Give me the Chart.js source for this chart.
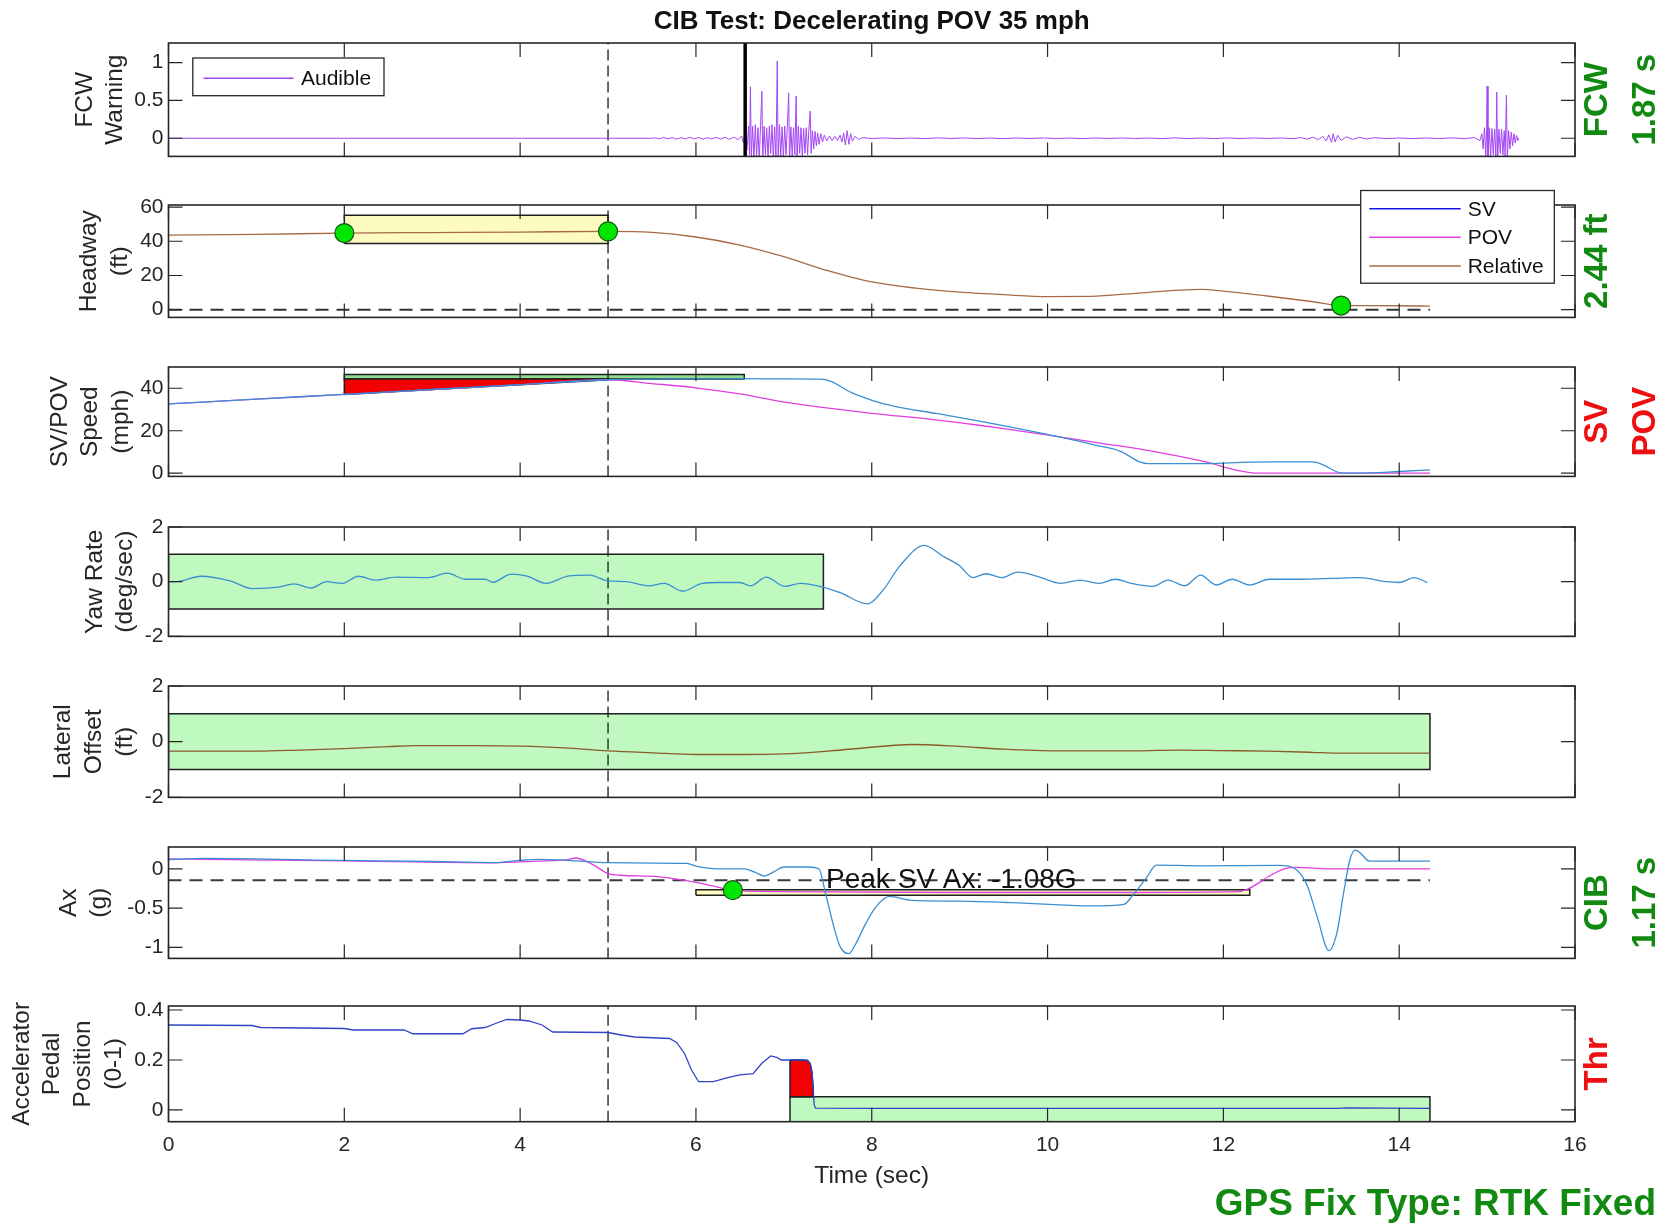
<!DOCTYPE html>
<html>
<head>
<meta charset="utf-8">
<title>CIB Test: Decelerating POV 35 mph</title>
<script src="https://cdn.jsdelivr.net/npm/chart.js@4.4.1/dist/chart.umd.min.js"></script>
<style>
  html, body { margin: 0; padding: 0; background: #fff; }
  #page { position: relative; width: 1672px; height: 1227px; overflow: hidden; background: #fff; }
  #page canvas { position: absolute; left: 0; }
</style>
</head>
<body>
<div id="page"></div>
<script>
// ---- data (time in seconds) ----
const xTicks = [0, 2, 4, 6, 8, 10, 12, 14, 16];
const fcwTicks = [0, 0.5, 1];
const headwayTicks = [0, 20, 40, 60];
const speedTicks = [0, 20, 40];
const yawTicks = [-2, 0, 2];
const lateralTicks = [-2, 0, 2];
const axTicks = [-1, -0.5, 0];
const pedalTicks = [0, 0.2, 0.4];

const seriesNames = ['SV', 'POV', 'Relative'];
const triggerTime = 5;        // dashed reference line through every panel
const fcwOnset = 6.56;        // FCW issued (black line)
const endTime = 14.35;

// FCW audible channel [t, amplitude]
const audibleSamples = [
  [0,0],[5.5,0],
  [5.53,0.008],[5.58,-0.01],[5.63,0.012],[5.68,-0.008],[5.73,0.01],[5.78,-0.012],[5.83,0.009],[5.88,-0.01],
  [5.93,0.012],[5.98,-0.009],[6.03,0.01],[6.08,-0.012],[6.13,0.008],[6.18,-0.01],[6.23,0.012],[6.28,-0.01],
  [6.33,0.012],[6.38,-0.014],[6.43,0.015],[6.48,-0.018],[6.52,0.03],
  [6.54,-0.06],[6.56,0.1],[6.58,-0.16],[6.6,0.16],[6.61,-0.22],[6.62,0.68],[6.63,-0.26],[6.645,0.16],
  [6.66,-0.3],[6.675,0.18],[6.69,-0.24],[6.705,0.14],[6.72,-0.28],[6.735,0.17],[6.75,0.62],[6.76,-0.3],
  [6.775,0.16],[6.79,-0.22],[6.805,0.14],[6.82,-0.26],[6.835,0.16],[6.85,-0.2],[6.865,0.18],[6.88,-0.26],
  [6.895,0.15],[6.91,-0.3],[6.925,1.02],[6.935,-0.3],[6.95,0.18],[6.965,-0.24],[6.98,0.15],[6.995,-0.26],
  [7.01,0.16],[7.025,-0.22],[7.04,0.17],[7.055,0.6],[7.065,-0.3],[7.08,0.15],[7.095,-0.24],[7.11,0.14],
  [7.125,-0.22],[7.14,0.56],[7.15,-0.3],[7.165,0.16],[7.18,-0.2],[7.195,0.14],[7.21,-0.24],[7.225,0.13],
  [7.24,-0.2],[7.255,0.14],[7.27,-0.22],[7.285,0.12],[7.3,0.36],[7.31,-0.2],[7.325,0.1],[7.34,-0.14],
  [7.355,0.09],[7.37,-0.1],[7.385,0.07],[7.4,-0.08],[7.42,0.06],[7.44,-0.05],[7.46,0.04],[7.49,-0.035],
  [7.52,0.03],[7.55,-0.03],[7.58,0.025],[7.61,-0.03],[7.64,0.04],[7.66,-0.05],[7.68,0.07],[7.7,-0.09],
  [7.72,0.1],[7.74,-0.08],[7.76,0.06],[7.78,-0.04],[7.81,0.025],[7.85,-0.015],[7.9,0.008],
  [8.0,-0.004],[8.15,0.004],[8.3,-0.004],[8.45,0.003],[8.6,-0.004],[8.75,0.005],[8.9,-0.003],[9.05,0.004],
  [9.2,-0.004],[9.35,0.003],[9.5,-0.005],[9.65,0.004],[9.8,-0.003],[9.95,0.004],[10.1,-0.004],[10.25,0.003],
  [10.4,-0.004],[10.55,0.004],[10.7,-0.003],[10.85,0.004],[11.0,-0.004],[11.15,0.003],[11.3,-0.004],[11.45,0.005],
  [11.6,-0.004],[11.75,0.003],[11.9,-0.004],[12.05,0.004],[12.2,-0.003],[12.35,0.004],[12.5,-0.003],[12.65,0.004],
  [12.8,-0.006],[12.88,0.01],[12.95,-0.012],[13.02,0.015],[13.08,-0.02],[13.13,0.025],[13.17,-0.035],[13.2,0.045],
  [13.23,-0.055],[13.25,0.06],[13.27,-0.05],[13.3,0.04],[13.34,-0.03],[13.4,0.02],[13.47,-0.015],[13.55,0.012],
  [13.63,-0.01],[13.72,0.008],[13.85,-0.004],[14.0,0.004],[14.15,-0.004],[14.3,0.004],[14.45,-0.004],[14.6,0.005],
  [14.75,-0.006],[14.85,0.01],[14.92,-0.03],
  [14.94,0.06],[14.955,-0.14],[14.97,0.14],[14.985,-0.24],[14.995,0.12],[15.0,0.69],[15.01,-0.3],[15.025,0.14],
  [15.04,-0.24],[15.055,0.13],[15.07,-0.22],[15.085,0.12],[15.1,-0.26],[15.11,0.61],[15.12,-0.3],[15.135,0.12],
  [15.15,-0.2],[15.165,0.12],[15.18,-0.22],[15.195,0.1],[15.205,-0.24],[15.22,0.57],[15.23,-0.26],[15.245,0.1],
  [15.26,-0.14],[15.275,0.08],[15.29,-0.1],[15.305,0.06],[15.32,-0.06],[15.335,0.04],[15.35,-0.03],[15.36,0]
];

// Headway (ft)
const headTime = [0, 1, 2, 3, 4, 5, 5.5, 6, 6.5, 7, 7.5, 8, 8.5, 9, 9.5, 10, 10.5, 11, 11.5, 11.75, 12, 12.5, 13, 13.34, 13.6, 14, 14.35];
const headFt   = [43.6, 44.0, 44.8, 45.1, 45.4, 45.8, 45.2, 42.5, 37.8, 31.0, 22.8, 16.2, 12.6, 10.3, 8.8, 7.7, 7.8, 9.6, 11.5, 11.9, 10.9, 8.0, 4.8, 2.44, 2.4, 2.3, 2.1];
const headWindow = [2, 5];
const headBand = [38.7, 55.2];
const headDots = [[2, 44.8], [5, 45.8], [13.34, 2.44]];

// Speeds (mph)
const svSpeedTime = [0, 1, 2, 3, 4, 5, 5.5, 6, 6.5, 7, 7.45, 7.55, 7.77, 8.02, 8.26, 8.75, 9.36, 9.97, 10.58, 10.83, 11.04, 11.15, 11.5, 11.8, 12.29, 12.6, 13.02, 13.14, 13.33, 13.5, 14.0, 14.35];
const svSpeed     = [32.6, 34.9, 37.1, 39.4, 41.7, 44.0, 44.3, 44.4, 44.5, 44.4, 44.2, 43.0, 37.9, 34.1, 31.5, 28.0, 23.5, 18.5, 12.9, 10.3, 5.5, 4.5, 4.5, 4.5, 5.2, 5.3, 5.3, 3.8, 0.2, 0.0, 0.8, 1.6];
const povSpeedTime = [0, 1, 2, 3, 4, 5, 5.5, 6, 6.5, 6.92, 7.53, 8.0, 8.75, 9.4, 9.97, 10.6, 11.2, 11.8, 12.17, 12.4, 13, 14.35];
const povSpeed     = [32.6, 34.9, 37.1, 39.4, 41.7, 44.0, 42.2, 40.2, 37.3, 34.1, 30.5, 28.2, 25.0, 21.6, 18.2, 14.2, 10.3, 5.3, 1.2, 0.0, 0.0, 0.0];
const speedWindow = [2, 5];
const speedBar = [44.3, 46.5];
const speedBarEnd = 6.55;

// Yaw rate (deg/sec)
const yawTime = [0, 0.09, 0.37, 0.7, 0.95, 1.25, 1.43, 1.62, 1.8, 1.98, 2.16, 2.35, 2.59, 2.96, 3.17, 3.38, 3.6, 3.69, 3.9, 4.08,
  4.3, 4.54, 4.79, 5.0, 5.21, 5.46, 5.64, 5.85, 6.07, 6.25, 6.5, 6.62, 6.8, 7.01, 7.19, 7.41, 7.64, 7.95, 8.13, 8.32,
  8.6, 8.81, 9.0, 9.15, 9.3, 9.48, 9.66, 9.91, 10.15, 10.37, 10.58, 10.77, 10.95, 11.2, 11.37, 11.56, 11.74, 11.92, 12.1, 12.3,
  12.52, 12.88, 13.25, 13.55, 13.86, 14.0, 14.17, 14.32];
const yawRate = [0, 0, 0.2, 0.03, -0.25, -0.2, -0.08, -0.23, 0, -0.06, 0.2, 0.06, 0.17, 0.15, 0.31, 0.09, 0.09, -0.02, 0.28, 0.2,
  -0.06, 0.2, 0.24, 0.03, 0, -0.15, -0.06, -0.35, -0.06, -0.03, -0.03, -0.15, 0.17, -0.17, -0.06, -0.17, -0.4, -0.81, -0.3, 0.58,
  1.33, 0.93, 0.58, 0.15, 0.29, 0.15, 0.35, 0.17, -0.06, 0.06, -0.06, 0.09, -0.06, -0.17, 0.06, -0.15, 0.24, -0.12, 0.09, -0.12,
  0.09, 0.09, 0.12, 0.15, 0, -0.03, 0.15, -0.03];
const yawBand = [-1, 1];
const yawBandEnd = 7.45;

// Lateral offset (ft)
const latTime = [0, 1, 1.5, 2, 2.5, 2.8, 3.5, 4, 4.5, 5, 5.5, 6, 6.5, 7, 7.53, 8, 8.45, 9, 9.5, 10.1, 11, 11.5, 12, 12.5, 13, 13.3, 14.35];
const latOffset = [-0.34, -0.34, -0.3, -0.25, -0.18, -0.14, -0.14, -0.16, -0.22, -0.33, -0.4, -0.46, -0.46, -0.44, -0.33, -0.2, -0.1, -0.17, -0.27, -0.33, -0.33, -0.3, -0.32, -0.34, -0.38, -0.41, -0.41];
const latBand = [-1, 1];

// Longitudinal acceleration (g)
const axSvTime = [0, 0.4, 2, 3, 3.7, 4.0, 4.2, 4.55, 5.0, 5.9, 6.0, 6.25, 6.55, 6.67, 6.78, 6.88, 7.0, 7.28, 7.4, 7.47,
  7.56, 7.64, 7.74, 7.82, 7.93, 8.05, 8.2, 8.45, 9.0, 9.6, 10.2, 10.5, 10.87, 10.96, 11.12, 11.24, 11.73, 12.64, 12.83, 12.95,
  13.07, 13.2, 13.29, 13.37, 13.44, 13.5, 13.56, 13.66, 14.35];
const axSv = [0.12, 0.135, 0.11, 0.095, 0.082, 0.11, 0.123, 0.11, 0.08, 0.07, 0.035, 0.0, 0.0, -0.04, -0.09, -0.04, 0.025, 0.025, 0.0, -0.29,
  -0.7, -0.99, -1.08, -0.95, -0.7, -0.48, -0.35, -0.4, -0.41, -0.43, -0.46, -0.47, -0.45, -0.35, -0.12, 0.05, 0.04, 0.045, -0.01, -0.2,
  -0.62, -1.04, -0.82, -0.29, 0.12, 0.24, 0.2, 0.1, 0.1];
const axPovTime = [0, 2, 3.7, 4.2, 4.54, 4.63, 4.75, 4.88, 5.0, 5.15, 5.58, 6.0, 6.25, 6.4, 6.92, 9.0, 11.0, 12.17, 12.29, 12.54, 12.72, 12.84, 13.2, 14.35];
const axPov = [0.128, 0.103, 0.078, 0.10, 0.12, 0.14, 0.10, 0.02, -0.06, -0.08, -0.1, -0.17, -0.23, -0.27, -0.29, -0.3, -0.3, -0.29, -0.25, -0.08, 0.01, 0.02, 0.0, 0.0];
const axThreshold = -0.145;
const axWindow = [6.0, 12.3];
const axBand = [-0.335, -0.265];
const axDot = [[6.42, -0.27]];

// Accelerator pedal (0-1)
const pedalTime = [0, 0.95, 1.05, 2.0, 2.1, 2.68, 2.78, 3.35, 3.45, 3.6, 3.75, 3.85, 4.0, 4.1, 4.25, 4.37, 5.0, 5.15, 5.3, 5.7,
  5.78, 5.87, 5.95, 6.03, 6.2, 6.35, 6.5, 6.65, 6.75, 6.85, 6.92, 6.97, 7.07, 7.2, 7.27, 7.3, 7.32, 7.335, 7.345, 7.36,
  8, 10, 12, 13.3, 13.4, 14.35];
const pedal = [0.340, 0.338, 0.330, 0.326, 0.320, 0.320, 0.305, 0.305, 0.325, 0.330, 0.350, 0.362, 0.360, 0.356, 0.340, 0.312, 0.310, 0.300, 0.292, 0.286,
  0.270, 0.226, 0.160, 0.113, 0.113, 0.128, 0.140, 0.145, 0.187, 0.216, 0.210, 0.200, 0.200, 0.200, 0.198, 0.185, 0.150, 0.080, 0.020, 0.007,
  0.006, 0.006, 0.006, 0.006, 0.008, 0.006];
const thrWindow = [7.07, 7.335];
const pedalBand = [-0.05, 0.053];

// ---- look ----
const FONT = '"Liberation Sans", Arial, Helvetica, sans-serif';
const INK = '#262626';
const PAGE_W = 1672, PAGE_H = 1227;
const AX_LEFT = 168.5, AX_RIGHT = 1575;
const PAD_TOP = 40, PAD_BOTTOM = 14, X_AXIS_H = 80;
const TICK_LEN = 14;
const SIDE_X = [1598, 1646];
const GREEN_TXT = '#128a12', RED_TXT = '#ee1010';
const C = {
  audible: '#a347f5', sv: '#3a8fd2', pov: '#e03ee0', rel: '#a86a44', lat: '#8b5a2b', pedal: '#3144c8',
  legSv: '#1515e0', lightGreen: '#bff9bf', barGreen: '#8fdc8f', yellow: '#fdfbc0', red: '#f40000', dot: '#00e600'
};
const tickFont = { family: FONT, size: 21 };
const labelFont = { family: FONT, size: 24.5, lineHeight: 1.25 };

Chart.defaults.font.family = FONT;

// ---- helpers ----
const toPts = (xs, ys) => xs.map((x, i) => ({ x, y: ys[i] }));
const pairPts = arr => arr.map(([x, y]) => ({ x, y }));
const rect = (x0, x1, y0, y1) => [{x: x0, y: y0}, {x: x0, y: y1}, {x: x1, y: y1}, {x: x1, y: y0}, {x: x0, y: y0}];

function trace(data, color, width, order, smooth = true) {
  return { data, borderColor: color, borderWidth: width, pointRadius: 0, fill: false, order,
           tension: 0, cubicInterpolationMode: smooth ? 'monotone' : 'default' };
}
function patch(data, color, order = 8) {
  return { data, borderColor: '#1f1f1f', borderWidth: 1.5, backgroundColor: color, fill: 'shape',
           pointRadius: 0, tension: 0, order };
}
function dashed(data, color, width, dash, order = 6) {
  return { data, borderColor: color, borderWidth: width, borderDash: dash, pointRadius: 0, fill: false, tension: 0, order };
}
function dots(arr) {
  return { data: pairPts(arr), showLine: false, pointRadius: 9.5, pointHoverRadius: 9.5,
           pointBackgroundColor: C.dot, pointBorderColor: '#145214', pointBorderWidth: 1.2, order: 0 };
}
const vline = (x, r) => [{ x, y: r[0] }, { x, y: r[1] }];
const triggerLine = r => dashed(vline(triggerTime, r), '#1a1a1a', 1.3, [11, 5], 5);

// polygon between a trace and a level, inside a time window
function areaToLevel(ts, vs, win, level) {
  const pts = toPts(ts, vs).filter(p => p.x >= win[0] && p.x <= win[1]);
  pts.push({ x: win[1], y: level }, { x: win[0], y: level }, { ...pts[0] });
  return pts;
}

// ---- panels ----
const ranges = {
  fcw: [-0.24, 1.26], head: [-4.5, 61.2], speed: [-1.5, 50], yaw: [-2, 2], lat: [-2, 2], ax: [-1.14, 0.28], pedal: [-0.047, 0.416]
};

const panels = [
  { top: 43.3, bottom: 160.3, range: ranges.fcw, ticks: fcwTicks, title: ['FCW', 'Warning'], titleX: 85,
    side: [{ text: 'FCW', color: GREEN_TXT }, { text: '1.87 s', color: GREEN_TXT }],
    legend: { box: [192.8, 58.3, 384, 96], line: [203.5, 293.5], textX: 301,
              items: [{ label: 'Audible', color: C.audible, y: 78.5 }] },
    pageTexts: [{ text: 'CIB Test: Decelerating POV 35 mph', x: (AX_LEFT + AX_RIGHT) / 2, y: 29,
                  font: `bold 26px ${FONT}`, color: '#111', align: 'center' }],
    datasets: [
      trace(pairPts(audibleSamples), C.audible, 1, 3, false),
      dashed(vline(fcwOnset, ranges.fcw), '#000', 3.5, [], 1),
      triggerLine(ranges.fcw)
    ] },
  { top: 204.5, bottom: 320.7, range: ranges.head, ticks: headwayTicks, title: ['Headway', '(ft)'], titleX: 89.5,
    side: [{ text: '2.44 ft', color: GREEN_TXT }],
    legend: { box: [1360.7, 190, 1554.3, 282.7], line: [1369.3, 1460.7], textX: 1467.7,
              items: [{ label: seriesNames[0], color: C.legSv, y: 208.3 },
                      { label: seriesNames[1], color: C.pov, y: 236.7 },
                      { label: seriesNames[2], color: C.rel, y: 265.5 }] },
    datasets: [
      dots(headDots),
      trace(toPts(headTime, headFt), C.rel, 1.3, 2),
      dashed([{ x: 0, y: 0 }, { x: endTime, y: 0 }], '#333', 2, [13, 8], 6),
      triggerLine(ranges.head),
      patch(rect(headWindow[0], headWindow[1], headBand[0], headBand[1]), C.yellow)
    ] },
  { top: 366.7, bottom: 480, range: ranges.speed, ticks: speedTicks, title: ['SV/POV', 'Speed', '(mph)'], titleX: 60,
    side: [{ text: 'SV', color: RED_TXT }, { text: 'POV', color: RED_TXT }],
    datasets: [
      trace(toPts(svSpeedTime, svSpeed), C.sv, 1.3, 2),
      trace(toPts(povSpeedTime, povSpeed), C.pov, 1.3, 3),
      triggerLine(ranges.speed),
      patch(areaToLevel(svSpeedTime, svSpeed, speedWindow, speedBar[0]), C.red, 7),
      patch(rect(speedWindow[0], speedBarEnd, speedBar[0], speedBar[1]), C.barGreen, 8)
    ] },
  { top: 527.3, bottom: 640.7, range: ranges.yaw, ticks: yawTicks, title: ['Yaw Rate', '(deg/sec)'], titleX: 95,
    datasets: [
      trace(toPts(yawTime, yawRate), C.sv, 1.3, 2),
      triggerLine(ranges.yaw),
      patch(rect(0, yawBandEnd, yawBand[0], yawBand[1]), C.lightGreen)
    ] },
  { top: 686, bottom: 801, range: ranges.lat, ticks: lateralTicks, title: ['Lateral', 'Offset', '(ft)'], titleX: 63.5,
    datasets: [
      trace(toPts(latTime, latOffset), C.lat, 1.3, 2),
      triggerLine(ranges.lat),
      patch(rect(0, endTime, latBand[0], latBand[1]), C.lightGreen)
    ] },
  { top: 847.3, bottom: 962, range: ranges.ax, ticks: axTicks, title: ['Ax', '(g)'], titleX: 69,
    side: [{ text: 'CIB', color: GREEN_TXT }, { text: '1.17 s', color: GREEN_TXT }],
    notes: [{ text: `Peak SV Ax: ${Math.min(...axSv).toFixed(2)}G`, x: 7.48, y: axThreshold, font: `28px ${FONT}`, color: '#111' }],
    datasets: [
      dots(axDot),
      trace(toPts(axSvTime, axSv), C.sv, 1.3, 2),
      trace(toPts(axPovTime, axPov), C.pov, 1.3, 3),
      dashed([{ x: 0, y: axThreshold }, { x: endTime, y: axThreshold }], '#3a3a3a', 2, [13, 8], 6),
      triggerLine(ranges.ax),
      patch(rect(axWindow[0], axWindow[1], axBand[0], axBand[1]), C.yellow)
    ] },
  { top: 1006, bottom: 1121.7, range: ranges.pedal, ticks: pedalTicks, title: ['Accelerator', 'Pedal', 'Position', '(0-1)'], titleX: 22,
    last: true,
    side: [{ text: 'Thr', color: RED_TXT }],
    pageTexts: [{ text: 'GPS Fix Type: RTK Fixed', x: 1656, y: 1215, font: `bold 37px ${FONT}`, color: GREEN_TXT, align: 'right' }],
    datasets: [
      trace(toPts(pedalTime, pedal), C.pedal, 1.3, 2, false),
      triggerLine(ranges.pedal),
      patch(areaToLevel(pedalTime, pedal, thrWindow, pedalBand[1]), C.red, 7),
      patch(rect(thrWindow[0], endTime, pedalBand[0], pedalBand[1]), C.lightGreen, 8)
    ] }
];

function overlayPlugin(p, canvasTop) {
  return {
    id: 'matlabOverlay',
    afterDatasetsDraw(chart) {
      const { ctx, chartArea: a, scales: { x, y } } = chart;
      ctx.save();
      (p.notes || []).forEach(n => {
        ctx.font = n.font; ctx.fillStyle = n.color;
        ctx.textAlign = 'left'; ctx.textBaseline = 'middle';
        ctx.fillText(n.text, x.getPixelForValue(n.x), y.getPixelForValue(n.y));
      });
      // MATLAB style box with inward ticks on all four sides
      ctx.strokeStyle = INK; ctx.lineWidth = 1.6;
      ctx.strokeRect(a.left, a.top, a.right - a.left, a.bottom - a.top);
      ctx.lineWidth = 1.2;
      ctx.beginPath();
      xTicks.forEach(v => {
        const px = x.getPixelForValue(v);
        ctx.moveTo(px, a.top); ctx.lineTo(px, a.top + TICK_LEN);
        ctx.moveTo(px, a.bottom); ctx.lineTo(px, a.bottom - TICK_LEN);
      });
      p.ticks.forEach(v => {
        const py = y.getPixelForValue(v);
        ctx.moveTo(a.left, py); ctx.lineTo(a.left + TICK_LEN, py);
        ctx.moveTo(a.right, py); ctx.lineTo(a.right - TICK_LEN, py);
      });
      ctx.stroke();
      ctx.restore();
    },
    afterDraw(chart) {
      const { ctx, chartArea: a } = chart;
      ctx.save();
      if (p.legend) {
        const L = p.legend;
        const [x0, y0, x1, y1] = L.box;
        ctx.fillStyle = '#fff';
        ctx.fillRect(x0, y0 - canvasTop, x1 - x0, y1 - y0);
        ctx.strokeStyle = INK; ctx.lineWidth = 1.3;
        ctx.strokeRect(x0, y0 - canvasTop, x1 - x0, y1 - y0);
        L.items.forEach(it => {
          const yy = it.y - canvasTop;
          ctx.strokeStyle = it.color; ctx.lineWidth = 1.5;
          ctx.beginPath(); ctx.moveTo(L.line[0], yy); ctx.lineTo(L.line[1], yy); ctx.stroke();
          ctx.font = `21px ${FONT}`; ctx.fillStyle = '#111';
          ctx.textAlign = 'left'; ctx.textBaseline = 'middle';
          ctx.fillText(it.label, L.textX, yy + 1);
        });
      }
      const yc = (a.top + a.bottom) / 2;
      (p.side || []).forEach((s, i) => {
        ctx.save();
        ctx.translate(SIDE_X[i], yc);
        ctx.rotate(-Math.PI / 2);
        ctx.font = `bold 33px ${FONT}`; ctx.fillStyle = s.color;
        ctx.textAlign = 'center'; ctx.textBaseline = 'middle';
        ctx.fillText(s.text, 0, 0);
        ctx.restore();
      });
      (p.pageTexts || []).forEach(t => {
        ctx.font = t.font; ctx.fillStyle = t.color;
        ctx.textAlign = t.align; ctx.textBaseline = 'alphabetic';
        ctx.fillText(t.text, t.x, t.y - canvasTop);
      });
      ctx.restore();
    }
  };
}

const page = document.getElementById('page');

panels.forEach(p => {
  const canvasTop = p.top - PAD_TOP;
  const height = Math.round((p.last ? PAGE_H : p.bottom + PAD_BOTTOM) - canvasTop);
  const canvas = document.createElement('canvas');
  canvas.width = PAGE_W; canvas.height = height;
  canvas.style.top = canvasTop + 'px';
  canvas.style.width = PAGE_W + 'px'; canvas.style.height = height + 'px';
  page.appendChild(canvas);

  const bottomPad = p.last ? height - (p.bottom - canvasTop) - X_AXIS_H : height - (p.bottom - canvasTop);

  new Chart(canvas, {
    type: 'line',
    data: { datasets: p.datasets },
    options: {
      responsive: false,
      animation: false,
      devicePixelRatio: 1,
      events: [],
      layout: { padding: { left: 0, right: PAGE_W - AX_RIGHT, top: PAD_TOP, bottom: bottomPad } },
      plugins: { legend: { display: false }, tooltip: { enabled: false } },
      scales: {
        x: {
          type: 'linear', min: 0, max: 16, display: !!p.last,
          afterBuildTicks: s => { s.ticks = xTicks.map(v => ({ value: v })); },
          afterFit: s => { s.height = p.last ? X_AXIS_H : 0; },
          grid: { display: false, drawTicks: false },
          border: { display: false },
          ticks: { font: tickFont, color: INK, padding: 10.5, maxRotation: 0, autoSkip: false },
          title: { display: true, text: 'Time (sec)', font: labelFont, color: INK, padding: { top: 0, bottom: 10 } }
        },
        y: {
          type: 'linear', position: 'left', min: p.range[0], max: p.range[1],
          afterBuildTicks: s => { s.ticks = p.ticks.map(v => ({ value: v })); },
          afterFit: s => { s.width = AX_LEFT; },
          grid: { display: false, drawTicks: false },
          border: { display: false },
          ticks: { font: tickFont, color: INK, padding: 5, callback: v => String(v) },
          title: { display: true, text: p.title, font: labelFont, color: INK,
                   padding: { top: p.titleX - 24.5 * 1.25 / 2, bottom: 0 } }
        }
      }
    },
    plugins: [overlayPlugin(p, canvasTop)]
  });
});
</script>
</body>
</html>
